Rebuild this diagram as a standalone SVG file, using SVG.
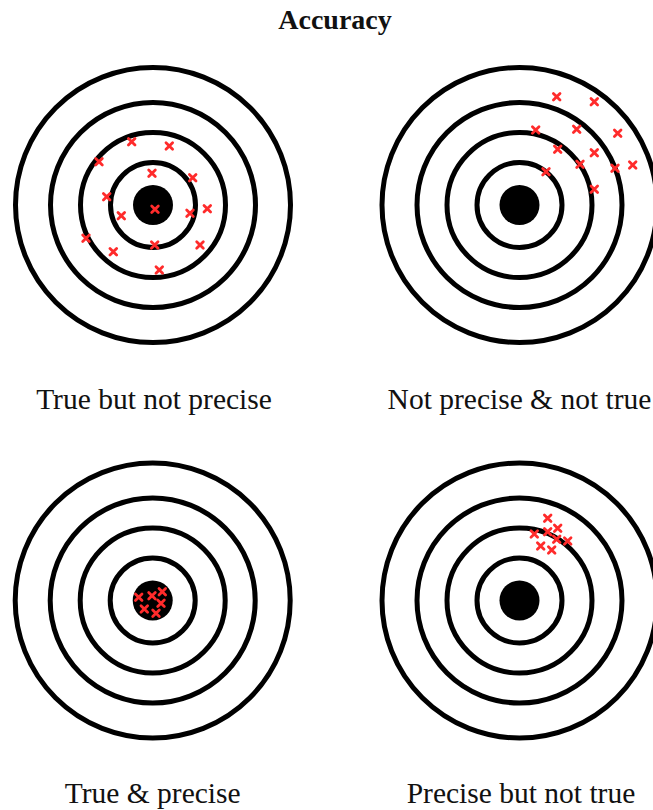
<svg xmlns="http://www.w3.org/2000/svg" xmlns:xlink="http://www.w3.org/1999/xlink" width="653" height="810" viewBox="0 0 653 810">
<style>
.ring{fill:none;stroke:#000;stroke-width:5}
.bull{fill:#000}
.lbl{font-family:"Liberation Serif","Times New Roman",serif;font-size:29.5px;fill:#111;text-anchor:middle}
.title{font-family:"Liberation Serif","Times New Roman",serif;font-size:28px;font-weight:bold;fill:#111;text-anchor:middle}
.x{fill:none;stroke:#ff2b2b;stroke-width:2.8;stroke-linecap:round}
</style>
<defs>
<g id="target">
<circle class="ring" r="137.5"/>
<circle class="ring" r="102.5"/>
<circle class="ring" r="72.5"/>
<circle class="ring" r="42.5"/>
<circle class="bull" r="20"/>
</g>
<path id="x" class="x" d="M-3.3,-3.3L3.3,3.3M3.3,-3.3L-3.3,3.3"/>
</defs>
<rect width="653" height="810" fill="#fff"/>
<text class="title" x="335" y="29">Accuracy</text>
<g id="target-true-not-precise">
<use xlink:href="#target" x="153" y="205"/>
<use xlink:href="#x" x="131.7" y="141.7"/>
<use xlink:href="#x" x="169.3" y="146"/>
<use xlink:href="#x" x="99" y="161.7"/>
<use xlink:href="#x" x="152" y="173.3"/>
<use xlink:href="#x" x="192.7" y="177.7"/>
<use xlink:href="#x" x="106.7" y="196.7"/>
<use xlink:href="#x" x="207.3" y="208.7"/>
<use xlink:href="#x" x="155" y="209.3"/>
<use xlink:href="#x" x="121.3" y="215.7"/>
<use xlink:href="#x" x="190" y="213.3"/>
<use xlink:href="#x" x="86" y="238.3"/>
<use xlink:href="#x" x="154.7" y="245"/>
<use xlink:href="#x" x="200" y="245"/>
<use xlink:href="#x" x="113.3" y="251.7"/>
<use xlink:href="#x" x="159.3" y="270"/>
<text class="lbl" x="154" y="409">True but not precise</text>
</g>
<g id="target-not-precise-not-true">
<use xlink:href="#target" x="519.5" y="205"/>
<use xlink:href="#x" x="556.7" y="96.7"/>
<use xlink:href="#x" x="594.3" y="101.7"/>
<use xlink:href="#x" x="535.7" y="130"/>
<use xlink:href="#x" x="576.7" y="129.3"/>
<use xlink:href="#x" x="617.7" y="133.3"/>
<use xlink:href="#x" x="557.7" y="149.3"/>
<use xlink:href="#x" x="594.3" y="152.7"/>
<use xlink:href="#x" x="580" y="164.3"/>
<use xlink:href="#x" x="615" y="168.3"/>
<use xlink:href="#x" x="632.7" y="165"/>
<use xlink:href="#x" x="546" y="171.7"/>
<use xlink:href="#x" x="594.3" y="189.3"/>
<text class="lbl" x="519.5" y="409">Not precise &amp; not true</text>
</g>
<g id="target-true-precise">
<use xlink:href="#target" x="152.7" y="600.5"/>
<use xlink:href="#x" x="138.7" y="597.3"/>
<use xlink:href="#x" x="152" y="595.7"/>
<use xlink:href="#x" x="162.3" y="591.7"/>
<use xlink:href="#x" x="161" y="603.3"/>
<use xlink:href="#x" x="144.3" y="609"/>
<use xlink:href="#x" x="156" y="613.3"/>
<text class="lbl" x="152.7" y="803">True &amp; precise</text>
</g>
<g id="target-precise-not-true">
<use xlink:href="#target" x="519.5" y="600.5"/>
<use xlink:href="#x" x="547.7" y="518.3"/>
<use xlink:href="#x" x="557.7" y="528.3"/>
<use xlink:href="#x" x="534.3" y="534"/>
<use xlink:href="#x" x="547.7" y="531.7"/>
<use xlink:href="#x" x="556.7" y="539.3"/>
<use xlink:href="#x" x="567.7" y="541"/>
<use xlink:href="#x" x="540.7" y="546"/>
<use xlink:href="#x" x="551.7" y="550"/>
<text class="lbl" x="521" y="803">Precise but not true</text>
</g>
<g id="connectors"/>
</svg>
